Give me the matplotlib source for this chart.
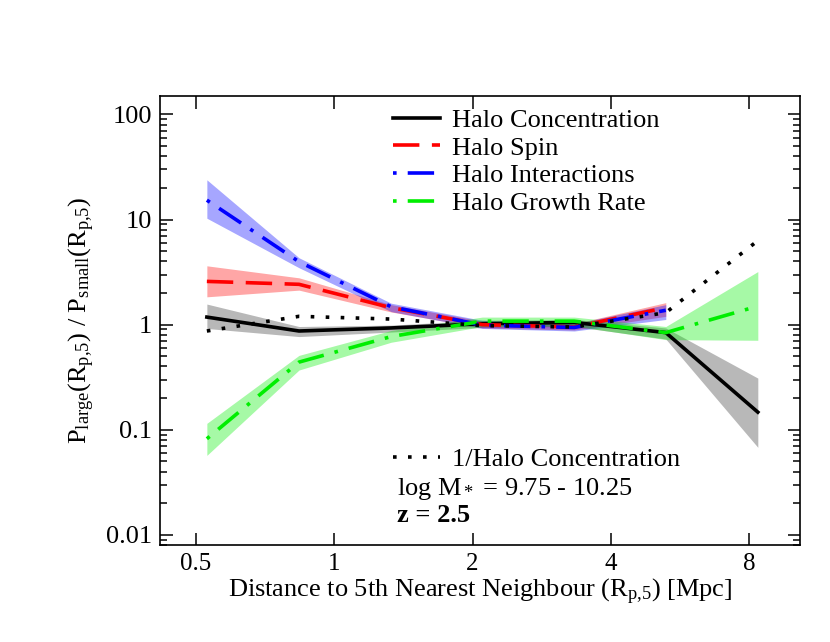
import matplotlib
matplotlib.use("Agg")
import matplotlib.pyplot as plt
from matplotlib.ticker import FixedLocator, FixedFormatter, LogLocator, NullFormatter, NullLocator

plt.rcParams['font.family'] = ['Liberation Serif', 'DejaVu Serif']
plt.rcParams['mathtext.fontset'] = 'custom'
plt.rcParams['mathtext.rm'] = 'Liberation Serif'
plt.rcParams['mathtext.it'] = 'Liberation Serif:italic'
plt.rcParams['mathtext.bf'] = 'Liberation Serif:bold'
plt.rcParams['lines.scale_dashes'] = False

# distance bins (Mpc)
r_p5 = [0.528, 0.838, 1.33, 2.10, 3.33, 5.27, 8.36]

# halo concentration (7 bins)
conc = [1.18, 0.87, 0.93, 1.02, 1.05, 0.84, 0.147]
conc_lo = [0.92, 0.77, 0.85, 0.94, 0.96, 0.73, 0.068]
conc_hi = [1.57, 0.96, 0.99, 1.10, 1.12, 0.93, 0.31]
inv_conc = [0.87, 1.2, 1.13, 0.98, 0.95, 1.3, 6.3]

# halo spin (6 bins)
spin = [2.58, 2.42, 1.45, 1.0, 0.95, 1.45]
spin_lo = [1.84, 2.13, 1.32, 0.93, 0.89, 1.2]
spin_hi = [3.63, 2.79, 1.55, 1.08, 1.02, 1.62]

# halo interactions (6 bins)
inter = [15.3, 3.97, 1.48, 0.99, 0.94, 1.37]
inter_lo = [10.3, 3.48, 1.33, 0.92, 0.87, 1.12]
inter_hi = [23.9, 4.33, 1.6, 1.1, 1.02, 1.55]

# halo growth rate (7 bins)
growth = [0.082, 0.44, 0.77, 1.08, 1.08, 0.84, 1.5]
growth_lo = [0.057, 0.37, 0.68, 0.96, 0.97, 0.72, 0.71]
growth_hi = [0.115, 0.51, 0.88, 1.18, 1.18, 0.96, 3.2]

x_ticks = [0.5, 1, 2, 4, 8]
x_labels = ['0.5', '1', '2', '4', '8']
y_ticks = [0.01, 0.1, 1, 10, 100]
y_labels = ['0.01', '0.1', '1', '10', '100']

green = '#00ee00'

fig = plt.figure(figsize=(8.3, 6.42), dpi=100)
ax = fig.add_axes([0.1928, 0.1511, 0.7711, 0.6994])
ax.set_xscale('log')
ax.set_yscale('log')

# error bands
ax.fill_between(r_p5, conc_lo, conc_hi, color='black', alpha=0.28, lw=0)
ax.fill_between(r_p5[:6], spin_lo, spin_hi, color='red', alpha=0.35, lw=0)
ax.fill_between(r_p5[:6], inter_lo, inter_hi, color='blue', alpha=0.35, lw=0)
ax.fill_between(r_p5, growth_lo, growth_hi, color=green, alpha=0.35, lw=0)

lw = 2.6
l1, = ax.plot(r_p5, conc, color='black', lw=lw, label='Halo Concentration')
l2, = ax.plot(r_p5[:6], spin, color='red', lw=lw, dashes=[19, 9], label='Halo Spin')
l3, = ax.plot(r_p5[:6], inter, color='blue', lw=lw, dashes=[2.6, 8, 19, 8],
              label='Halo Interactions')
l4, = ax.plot(r_p5, growth, color=green, lw=lw, dashes=[2.6, 8, 19, 8],
              label='Halo Growth Rate')
l5, = ax.plot(r_p5, inv_conc, color='black', lw=lw, dashes=[2.6, 8.2],
              label='1/Halo Concentration')

ax.set_xlim(0.4175, 10.33)
ax.set_ylim(0.008, 150)

ax.xaxis.set_major_locator(FixedLocator(x_ticks))
ax.xaxis.set_major_formatter(FixedFormatter(x_labels))
ax.xaxis.set_minor_locator(NullLocator())
ax.yaxis.set_major_locator(FixedLocator(y_ticks))
ax.yaxis.set_major_formatter(FixedFormatter(y_labels))
ax.yaxis.set_minor_locator(LogLocator(base=10, subs=range(2, 10)))
ax.yaxis.set_minor_formatter(NullFormatter())

ax.tick_params(which='both', direction='in', top=True, right=True, labelsize=18, width=1.1)
ax.tick_params(axis='y', labelsize=19)
ax.tick_params(which='major', length=9, pad=6)
ax.tick_params(which='minor', length=5)
for s in ax.spines.values():
    s.set_linewidth(1.2)

ax.set_xlabel(r'Distance to 5th Nearest Neighbour (R$_{\rm p{,}5}$) [Mpc]', fontsize=19, labelpad=1)
ax.set_ylabel(r'P$_{\rm large}$(R$_{\rm p{,}5}$) / P$_{\rm small}$(R$_{\rm p{,}5}$)', fontsize=19, labelpad=6)

leg1 = ax.legend(handles=[l1, l2, l3, l4], loc='upper left', bbox_to_anchor=(0.364, 0.972),
                 frameon=False, fontsize=19, handlelength=1.8, handletextpad=0.45,
                 labelspacing=0.16, borderpad=0, borderaxespad=0)
ax.add_artist(leg1)
ax.legend(handles=[l5], loc='upper left', bbox_to_anchor=(0.364, 0.216),
          frameon=False, fontsize=19, handlelength=1.8, handletextpad=0.45,
          borderpad=0, borderaxespad=0)

ax.text(0.37, 0.124, r'log M$_{\rm *}$ = 9.75 - 10.25', transform=ax.transAxes,
        fontsize=19, va='center', ha='left')
ax.text(0.37, 0.066, 'z = 2.5', transform=ax.transAxes, fontsize=19,
        fontweight='bold', va='center', ha='left')

fig.savefig('out.png', dpi=100)
